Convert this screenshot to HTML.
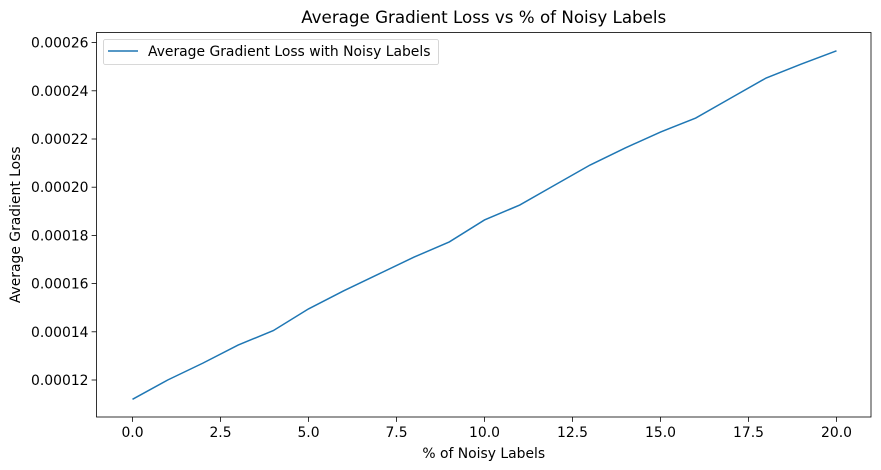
<!DOCTYPE html>
<html><head><meta charset="utf-8"><style>
body{margin:0;background:#fff;}
svg{display:block;font-family:"DejaVu Sans","Liberation Sans",sans-serif;}
</style></head><body>
<svg id="chart" width="881" height="470"></svg>
<script>
const xValues=[0,1,2,3,4,5,6,7,8,9,10,11,12,13,14,15,16,17,18,19,20];
const lossValues=[0.000112,0.000120,0.000127,0.0001345,0.0001405,0.0001495,0.000157,0.000164,0.000171,0.0001773,0.0001864,0.0001926,0.0002009,0.0002092,0.0002163,0.0002229,0.0002287,0.000237,0.0002453,0.0002511,0.0002566];
const xTicks=[0,2.5,5,7.5,10,12.5,15,17.5,20];
const yTicks=[0.00012,0.00014,0.00016,0.00018,0.00020,0.00022,0.00024,0.00026];
const NS="http://www.w3.org/2000/svg";
const svg=document.getElementById('chart');
const L=96.5,R=871,T=32.5,B=417;
function sx(v){return 132.5+v*35.2;}
function sy(v){return 380-(v-0.00012)/0.00002*48.2;}
function mk(tag,attrs,parent){const e=document.createElementNS(NS,tag);for(const k in attrs)e.setAttribute(k,attrs[k]);(parent||svg).appendChild(e);return e;}
xTicks.forEach(t=>{
  const g=mk('g',{});
  
  
  mk('line',{x1:sx(t),x2:sx(t),y1:B,y2:B+4.9,stroke:'#000','stroke-width':0.8},g);
  const tx=mk('text',{x:sx(t),y:B+20,'text-anchor':'middle','font-size':13.9,fill:'#000'},g);
  tx.textContent=t.toFixed(1);
});
yTicks.forEach(t=>{
  const g=mk('g',{});
  
  
  mk('line',{x1:L-4.9,x2:L,y1:sy(t),y2:sy(t),stroke:'#000','stroke-width':0.8},g);
  const tx=mk('text',{x:L-8,y:sy(t)+5,'text-anchor':'end','font-size':13.9,fill:'#000'},g);
  tx.textContent=t.toFixed(5);
});
const pts=xValues.map((x,i)=>sx(x)+','+sy(lossValues[i])).join(' ');
const pl=mk('polyline',{points:pts,fill:'none',stroke:'#1f77b4','stroke-width':1.5});


const fr=mk('rect',{x:L,y:T,width:R-L,height:B-T,fill:'none',stroke:'#000','stroke-width':0.8});


const title=mk('text',{x:(L+R)/2,y:23,'text-anchor':'middle','font-size':16.7,fill:'#000'});
title.textContent='Average Gradient Loss vs % of Noisy Labels';


const xl=mk('text',{x:(L+R)/2,y:458,'text-anchor':'middle','font-size':13.9,fill:'#000'});
xl.textContent='% of Noisy Labels';


const yl=mk('text',{x:0,y:0,'text-anchor':'middle','font-size':13.9,fill:'#000',transform:'translate(20,'+((T+B)/2)+') rotate(-90)'});
yl.textContent='Average Gradient Loss';


const lg=mk('g',{});


mk('rect',{x:103.5,y:39.5,width:335,height:25,rx:2,fill:'#fff',stroke:'#ccc','stroke-width':0.8},lg);
mk('line',{x1:108,x2:138,y1:51,y2:51,stroke:'#1f77b4','stroke-width':1.5},lg);
const lt=mk('text',{x:148,y:56,'font-size':13.9,fill:'#000'},lg);
lt.textContent='Average Gradient Loss with Noisy Labels';
</script>
</body></html>
